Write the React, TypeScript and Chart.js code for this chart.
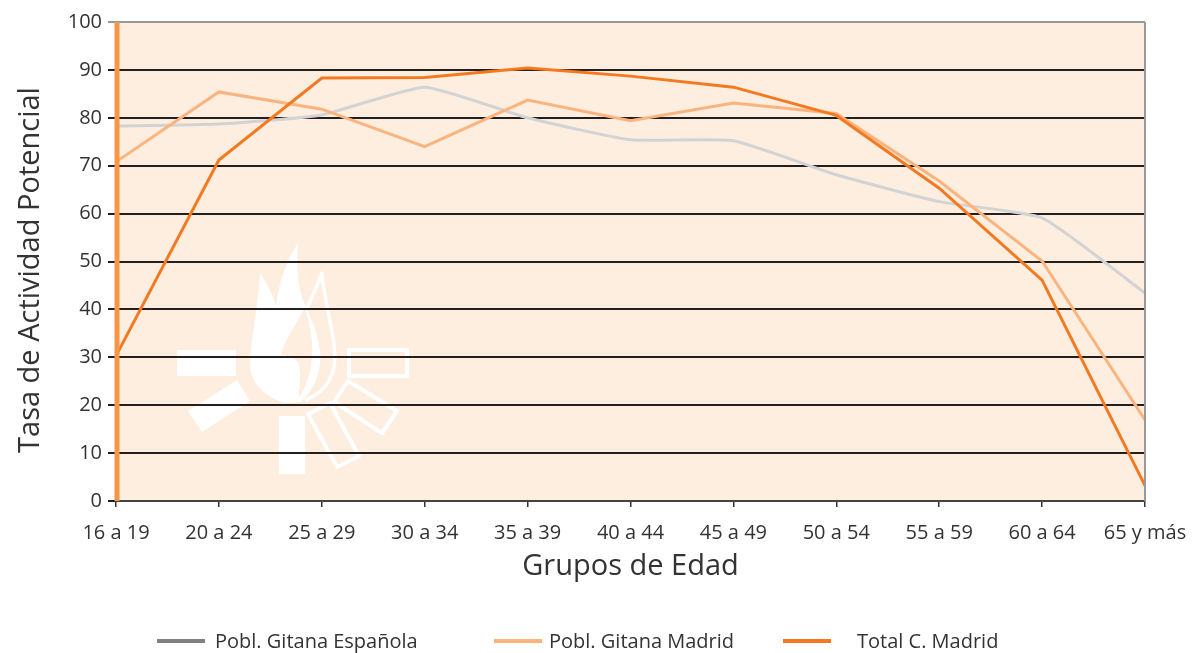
import React, { useEffect, useRef } from "react";
import { Chart, registerables } from "chart.js";

Chart.register(...registerables);

const categories = ["16 a 19", "20 a 24", "25 a 29", "30 a 34", "35 a 39", "40 a 44", "45 a 49", "50 a 54", "55 a 59", "60 a 64", "65 y más"];
const gitanaEspanola = [78.3, 78.7, 80.6, 86.4, 80.0, 75.4, 75.2, 68.1, 62.5, 59.1, 43.4];
const gitanaMadrid = [70.8, 85.4, 81.8, 74.0, 83.7, 79.4, 83.1, 80.9, 66.8, 50.1, 16.9];
const totalMadrid = [30.3, 71.2, 88.3, 88.4, 90.4, 88.7, 86.4, 80.5, 65.3, 46.1, 3.2];
const seriesNames = ["Pobl. Gitana Española", "Pobl. Gitana Madrid", "Total C. Madrid"];
const yTicks = [0, 10, 20, 30, 40, 50, 60, 70, 80, 90, 100];
const yTitle = "Tasa de Actividad Potencial";
const xTitle = "Grupos de Edad";

const FONT = "'Open Sans', 'Noto Sans', sans-serif";
const BG = "#fdeee0";

const decoPlugin = {
  id: "deco",
  beforeDraw(chart: any) {
    const { ctx, chartArea } = chart;
    const { left, top, right, bottom } = chartArea;
    ctx.save();
    ctx.fillStyle = BG;
    ctx.fillRect(left, top, right - left, bottom - top);
    // watermark logo (decorative), positioned relative to chart area
    const ox = left;
    const oy = top;
    const p = (x: number, y: number) => [ox + x - 116, oy + y - 22];
    ctx.fillStyle = "#ffffff";
    ctx.strokeStyle = "#ffffff";
    ctx.lineJoin = "round";
    let a = p(177, 350);
    ctx.fillRect(a[0], a[1], 59, 26);
    ctx.beginPath();
    [[188, 411], [237, 380], [250, 401], [202, 432]].forEach((pt, i) => {
      const q = p(pt[0], pt[1]);
      if (i === 0) ctx.moveTo(q[0], q[1]); else ctx.lineTo(q[0], q[1]);
    });
    ctx.closePath();
    ctx.fill();
    a = p(279, 416);
    ctx.fillRect(a[0], a[1], 26, 58);
    ctx.lineWidth = 4;
    a = p(349, 350);
    ctx.strokeRect(a[0], a[1], 58, 26);
    const poly = (pts: number[][]) => {
      ctx.beginPath();
      pts.forEach((pt, i) => {
        const q = p(pt[0], pt[1]);
        if (i === 0) ctx.moveTo(q[0], q[1]); else ctx.lineTo(q[0], q[1]);
      });
      ctx.closePath();
      ctx.stroke();
    };
    poly([[348, 381], [397, 411], [382, 433], [334, 402]]);
    poly([[308, 414], [330, 403], [359, 456], [337, 467]]);
    const m = (x: number, y: number) => { const q = p(x, y); ctx.moveTo(q[0], q[1]); };
    const c = (x1: number, y1: number, x2: number, y2: number, x: number, y: number) => {
      const q1 = p(x1, y1), q2 = p(x2, y2), q = p(x, y);
      ctx.bezierCurveTo(q1[0], q1[1], q2[0], q2[1], q[0], q[1]);
    };
    ctx.beginPath();
    m(285, 403);
    c(262, 396, 248, 380, 250, 360);
    c(252, 335, 258, 305, 260, 273);
    c(268, 285, 274, 297, 276, 307);
    c(279, 280, 288, 258, 298, 243);
    c(296, 268, 298, 290, 305, 305);
    c(312, 320, 318, 335, 320, 350);
    c(322, 370, 315, 390, 300, 402);
    ctx.closePath();
    ctx.fill();
    ctx.fillStyle = BG;
    ctx.beginPath();
    m(281, 355);
    c(285, 340, 295, 325, 305, 308);
    c(310, 325, 313, 340, 312, 355);
    c(311, 375, 305, 390, 298, 398);
    c(300, 385, 302, 372, 298, 362);
    c(292, 356, 286, 356, 281, 355);
    ctx.closePath();
    ctx.fill();
    ctx.strokeStyle = "#ffffff";
    ctx.lineWidth = 3.5;
    ctx.beginPath();
    m(305, 400);
    c(328, 392, 338, 372, 334, 345);
    c(331, 320, 324, 300, 322, 273);
    c(317, 285, 312, 298, 306, 310);
    ctx.stroke();
    ctx.restore();
  },
  afterDatasetsDraw(chart: any) {
    const { ctx, chartArea } = chart;
    ctx.save();
    ctx.strokeStyle = "#999999";
    ctx.lineWidth = 2;
    ctx.beginPath();
    ctx.moveTo(chartArea.right, chartArea.top);
    ctx.lineTo(chartArea.right, chartArea.bottom);
    ctx.stroke();
    ctx.strokeStyle = "#f79646";
    ctx.lineWidth = 5;
    ctx.beginPath();
    ctx.moveTo(chartArea.left + 1, chartArea.top);
    ctx.lineTo(chartArea.left + 1, chartArea.bottom);
    ctx.stroke();
    // y-axis title
    ctx.translate(31, 270);
    ctx.rotate(-Math.PI / 2);
    ctx.fillStyle = "#333333";
    ctx.font = "29px " + FONT;
    ctx.textAlign = "center";
    ctx.textBaseline = "middle";
    ctx.fillText(yTitle, 0, 0);
    ctx.restore();
  },
};

export default function App() {
  const ref = useRef<HTMLCanvasElement | null>(null);
  useEffect(() => {
    document.body.style.margin = "0";
    const chart = new Chart(ref.current as HTMLCanvasElement, {
      type: "line",
      data: {
        labels: categories,
        datasets: [
          { label: seriesNames[2], data: totalMadrid, borderColor: "#f47920", borderWidth: 3, pointRadius: 0, tension: 0, fill: false },
          { label: seriesNames[1], data: gitanaMadrid, borderColor: "#fbb47e", borderWidth: 3, pointRadius: 0, tension: 0, fill: false },
          { label: seriesNames[0], data: gitanaEspanola, borderColor: "#d3d3d3", borderWidth: 3, pointRadius: 0, tension: 0.15, fill: false },
        ],
      },
      options: {
        animation: false,
        responsive: false,
        maintainAspectRatio: false,
        layout: { padding: { left: 0, right: 57, top: 22, bottom: 69 } },
        plugins: { legend: { display: false }, tooltip: { enabled: false } },
        scales: {
          x: {
            offset: false,
            grid: { display: true, drawOnChartArea: false, drawTicks: true, tickLength: 6, color: "#333333", lineWidth: 1.5 },
            border: { display: true, color: "#444444", width: 2 },
            ticks: { color: "#333333", font: { family: FONT, size: 20 }, padding: 14, maxRotation: 0, autoSkip: false },
            title: { display: true, text: xTitle, color: "#333333", font: { family: FONT, size: 29 }, padding: { top: 6, bottom: 0 } },
            afterFit: (s: any) => { s.height = 83; },
          },
          y: {
            min: 0,
            max: 100,
            afterBuildTicks: (s: any) => { s.ticks = yTicks.map((v) => ({ value: v })); },
            grid: {
              display: true,
              drawTicks: true,
              tickLength: 8,
              lineWidth: 2,
              color: (ctx: any) => (ctx.tick && ctx.tick.value === 100 ? "#999999" : "#231f20"),
            },
            border: { display: false },
            ticks: { color: "#333333", font: { family: FONT, size: 20 }, padding: 6 },
            title: { display: false },
            afterFit: (s: any) => { s.width = 116; },
          },
        },
      },
      plugins: [decoPlugin],
    } as any);
    return () => chart.destroy();
  }, []);

  const legendItems = [
    { name: seriesNames[0], color: "#808080", lineLeft: 157, textLeft: 215 },
    { name: seriesNames[1], color: "#fbb47e", lineLeft: 494, textLeft: 549 },
    { name: seriesNames[2], color: "#f47920", lineLeft: 783, textLeft: 857 },
  ];

  return (
    <div style={{ position: "relative", width: 1202, height: 653, overflow: "hidden", background: "#ffffff" }}>
      <canvas ref={ref} width={1202} height={653} style={{ position: "absolute", left: 0, top: 0, width: 1202, height: 653 }} />
      {legendItems.map((it) => (
        <React.Fragment key={it.name}>
          <div style={{ position: "absolute", left: it.lineLeft, top: 639, width: 48, height: 4, background: it.color }} />
          <div style={{ position: "absolute", left: it.textLeft, top: 627, fontFamily: FONT, fontSize: 20, color: "#333333", whiteSpace: "nowrap", lineHeight: "28px" }}>{it.name}</div>
        </React.Fragment>
      ))}
    </div>
  );
}
